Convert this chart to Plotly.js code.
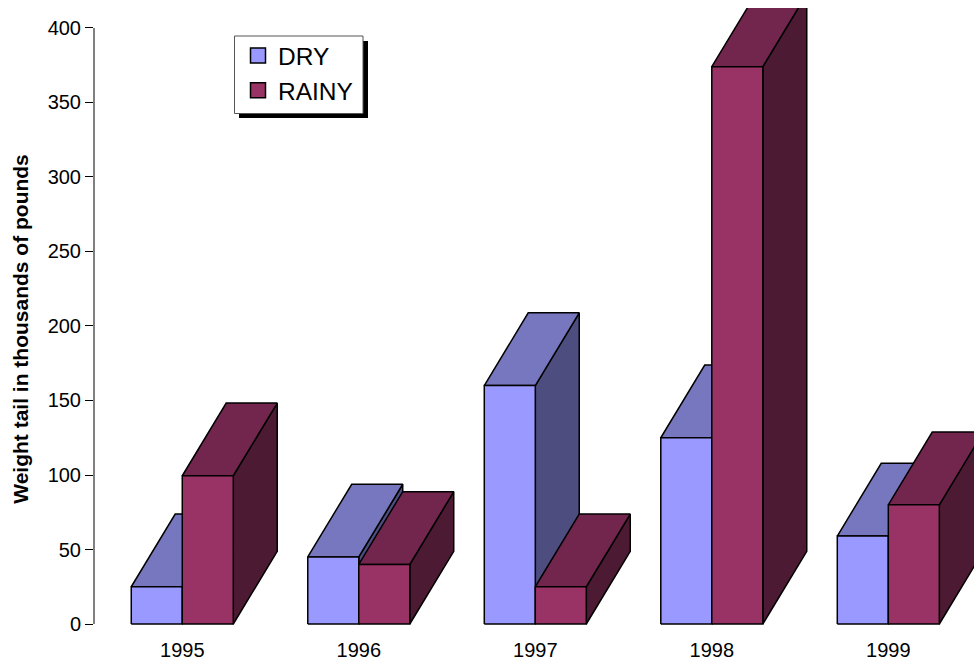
<!DOCTYPE html>
<html>
<head>
<meta charset="utf-8">
<script src="https://cdn.plot.ly/plotly-3.0.1.min.js"></script>
<style>html,body{margin:0;padding:0;background:#fff}</style>
</head>
<body>
<div id="chart" style="width:974px;height:661px"></div>
<script>
var years = [1995, 1996, 1997, 1998, 1999];
var dryValues = [25, 45, 160, 125, 59];
var rainyValues = [99.5, 40, 25, 374, 80];
var seriesNames = ['DRY', 'RAINY'];
var yTicks = [0, 50, 100, 150, 200, 250, 300, 350, 400];

var barWidth = 0.289;
var depthX = 0.249;
var depthY = 48.8;
var dryColors = {front: '#9999FF', top: '#7777BF', side: '#4D4D80'};
var rainyColors = {front: '#993366', top: '#73264D', side: '#4D1A33'};

var traces = [];
function face(xs, ys, color) {
  traces.push({
    type: 'scatter', mode: 'lines', x: xs, y: ys, fill: 'toself', fillcolor: color,
    line: {color: '#000', width: 1.5}, showlegend: false, hoverinfo: 'skip'
  });
}
function box(x0, h, c) {
  var x1 = x0 + barWidth;
  face([x1, x1 + depthX, x1 + depthX, x1, x1], [0, depthY, h + depthY, h, 0], c.side);
  face([x0, x0 + depthX, x1 + depthX, x1, x0], [h, h + depthY, h + depthY, h, h], c.top);
  face([x0, x1, x1, x0, x0], [0, 0, h, h, 0], c.front);
}
years.forEach(function (yr, i) {
  box(yr - barWidth, dryValues[i], dryColors);
  box(yr, rainyValues[i], rainyColors);
});
[dryColors, rainyColors].forEach(function (c, i) {
  traces.push({
    type: 'scatter', mode: 'markers', x: [null], y: [null], yaxis: 'y2', name: seriesNames[i],
    marker: {symbol: 'square', size: 15, color: c.front, line: {color: '#000', width: 1.5}},
    showlegend: true
  });
});

var layout = {
  width: 974, height: 661,
  margin: {l: 94, r: 0, t: 8, b: 33, pad: 0},
  paper_bgcolor: '#fff', plot_bgcolor: 'rgba(0,0,0,0)',
  font: {family: 'Liberation Sans, Arial, sans-serif', color: '#000', size: 18},
  showlegend: true,
  legend: {
    x: (235 - 94) / 880, xanchor: 'left', y: 1 - (33 - 8) / 620, yanchor: 'top',
    bgcolor: 'rgba(0,0,0,0)', borderwidth: 0,
    font: {size: 24.5, color: '#000'}, itemwidth: 30, indentation: 3, traceorder: 'normal'
  },
  xaxis: {
    range: [1994.4999, 1999.4855], showgrid: false, zeroline: false, showline: false,
    tickmode: 'array', tickvals: years, ticktext: years.map(String),
    ticks: 'outside', ticklen: 4, tickcolor: 'rgba(0,0,0,0)',
    tickfont: {size: 20}
  },
  yaxis: {
    range: [-2.68, 413.4], showgrid: false, zeroline: false, showline: false,
    tickmode: 'array', tickvals: yTicks, ticks: 'outside', ticklen: 8, tickwidth: 1, tickcolor: '#000',
    tickfont: {size: 20}
  },
  yaxis2: {
    domain: [0, 1 - 22 / 620], anchor: 'x', range: [0, 1], fixedrange: true,
    showgrid: false, zeroline: false, showline: false, showticklabels: false, ticks: '',
    title: {text: '<b>Weight tail in thousands of pounds</b>', font: {size: 21}, standoff: 58}
  },
  shapes: [
    {type: 'line', xref: 'paper', yref: 'y', x0: 0, x1: 0, y0: 0, y1: 400, line: {color: '#808080', width: 2}},
    {type: 'rect', xref: 'paper', yref: 'paper', layer: 'above',
     x0: (239 - 94) / 880, x1: (368 - 94) / 880, y0: 1 - (118 - 8) / 620, y1: 1 - (41 - 8) / 620,
     fillcolor: '#000', line: {width: 0}},
    {type: 'rect', xref: 'paper', yref: 'paper', layer: 'above',
     x0: (234.5 - 94) / 880, x1: (363 - 94) / 880, y0: 1 - (113.5 - 8) / 620, y1: 1 - (36 - 8) / 620,
     fillcolor: '#fff', line: {width: 1, color: '#555'}}
  ]
};
Plotly.newPlot('chart', traces, layout, {displayModeBar: false, staticPlot: true});
</script>
</body>
</html>
